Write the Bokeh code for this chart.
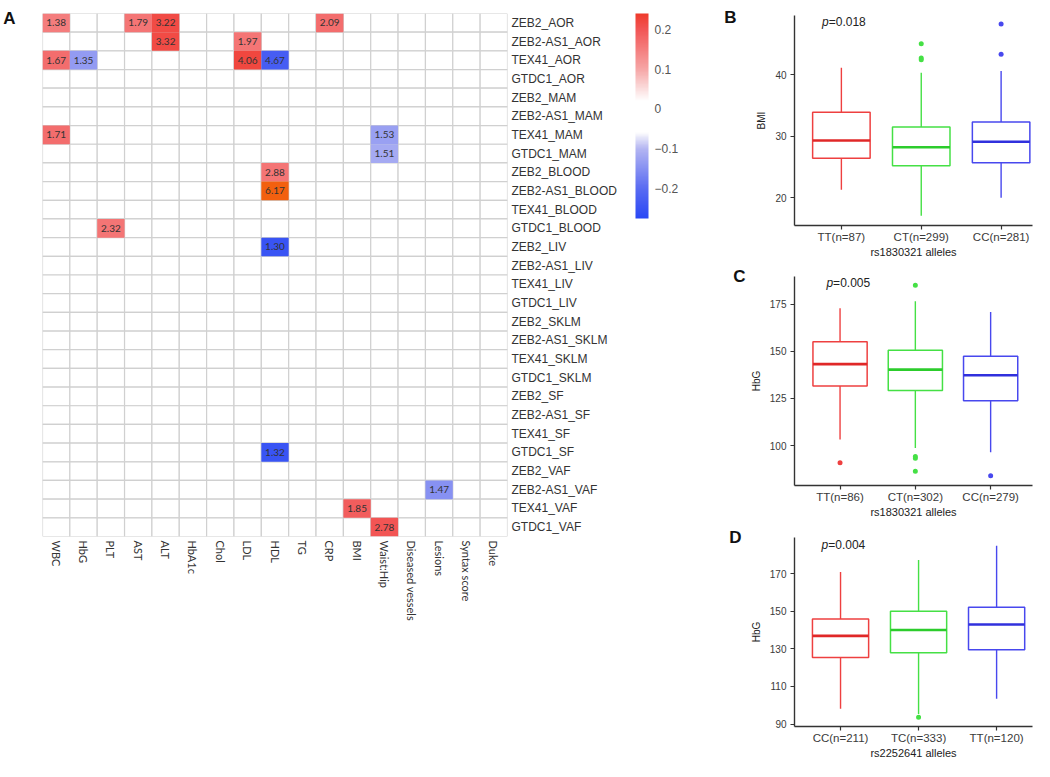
import numpy as np
from bokeh.plotting import figure
from bokeh.models import (LinearColorMapper, ColorBar, FixedTicker, Range1d,
                          ColumnDataSource, LinearAxis, Label)
from bokeh.layouts import row, column
from bokeh.embed import file_html
from bokeh.resources import INLINE
from bokeh.core.properties import value

# ---------------- Heatmap data ----------------
traits = ["WBC", "HbG", "PLT", "AST", "ALT", "HbA1c", "Chol", "LDL", "HDL", "TG", "CRP",
          "BMI", "Waist:Hip", "Diseased vessels", "Lesions", "Syntax score", "Duke"]
gene_tissue = ["ZEB2_AOR", "ZEB2-AS1_AOR", "TEX41_AOR", "GTDC1_AOR",
               "ZEB2_MAM", "ZEB2-AS1_MAM", "TEX41_MAM", "GTDC1_MAM",
               "ZEB2_BLOOD", "ZEB2-AS1_BLOOD", "TEX41_BLOOD", "GTDC1_BLOOD",
               "ZEB2_LIV", "ZEB2-AS1_LIV", "TEX41_LIV", "GTDC1_LIV",
               "ZEB2_SKLM", "ZEB2-AS1_SKLM", "TEX41_SKLM", "GTDC1_SKLM",
               "ZEB2_SF", "ZEB2-AS1_SF", "TEX41_SF", "GTDC1_SF",
               "ZEB2_VAF", "ZEB2-AS1_VAF", "TEX41_VAF", "GTDC1_VAF"]

sig_row = ["ZEB2_AOR", "ZEB2_AOR", "ZEB2_AOR", "ZEB2_AOR",
           "ZEB2-AS1_AOR", "ZEB2-AS1_AOR",
           "TEX41_AOR", "TEX41_AOR", "TEX41_AOR", "TEX41_AOR",
           "TEX41_MAM", "TEX41_MAM", "GTDC1_MAM",
           "ZEB2_BLOOD", "ZEB2-AS1_BLOOD", "GTDC1_BLOOD",
           "ZEB2_LIV", "GTDC1_SF", "ZEB2-AS1_VAF", "TEX41_VAF", "GTDC1_VAF"]
sig_col = ["WBC", "AST", "ALT", "CRP",
           "ALT", "LDL",
           "WBC", "HbG", "LDL", "HDL",
           "WBC", "Waist:Hip", "Waist:Hip",
           "HDL", "HDL", "PLT",
           "HDL", "HDL", "Lesions", "BMI", "Waist:Hip"]
sig_r = [0.15, 0.16, 0.215, 0.17,
         0.215, 0.16,
         0.17, -0.135, 0.22, -0.23,
         0.17, -0.13, -0.115,
         0.16, 0.26, 0.16,
         -0.25, -0.25, -0.15, 0.19, 0.2]
sig_label = ["1.38", "1.79", "3.22", "2.09",
             "3.32", "1.97",
             "1.67", "1.35", "4.06", "4.67",
             "1.71", "1.53", "1.51",
             "2.88", "6.17", "2.32",
             "1.30", "1.32", "1.47", "1.85", "2.78"]
cbar_ticks = [-0.2, -0.1, 0.0, 0.1, 0.2]

# ---------------- Box plot data ----------------
b_labels = ["TT(n=87)", "CT(n=299)", "CC(n=281)"]
b_lo = [21.3, 17.1, 20.0]
b_q1 = [26.4, 25.2, 25.7]
b_med = [29.3, 28.2, 29.1]
b_q3 = [33.9, 31.5, 32.3]
b_hi = [41.1, 40.3, 40.6]
b_out_g = [2, 2, 2, 3, 3]
b_out_v = [45.0, 42.7, 42.4, 48.2, 43.3]

c_labels = ["TT(n=86)", "CT(n=302)", "CC(n=279)"]
c_lo = [103.3, 98.8, 96.5]
c_q1 = [131.6, 129.2, 123.8]
c_med = [143.2, 140.3, 137.3]
c_q3 = [155.0, 150.5, 147.3]
c_hi = [172.8, 176.5, 170.8]
c_out_g = [1, 2, 2, 2, 2, 3]
c_out_v = [91.0, 185.0, 94.2, 93.3, 86.4, 84.1]

d_labels = ["CC(n=211)", "TC(n=333)", "TT(n=120)"]
d_lo = [98.2, 95.3, 103.4]
d_q1 = [125.4, 127.9, 129.5]
d_med = [136.9, 140.0, 142.9]
d_q3 = [145.9, 150.0, 152.1]
d_hi = [170.8, 177.2, 184.8]
d_out_g = [2]
d_out_v = [93.6]

group_colors = ["#ee4040", "#45e045", "#4848ee"]
median_colors = ["#e02828", "#2ccc2c", "#3030dd"]

# ---------------- palette ----------------
stops = [(-0.276, "#2a48f5"), (-0.2, "#5a6cf2"), (-0.1, "#b4b6f2"), (-0.068, "#eeeefb"),
         (-0.06, "#ffffff"), (0.02, "#ffffff"), (0.05, "#fbdede"), (0.1, "#f6a6a6"),
         (0.2, "#f25656"), (0.24, "#ef3b2c")]


def hex2rgb(h):
    return [int(h[i:i + 2], 16) for i in (1, 3, 5)]


def build_palette(n=256):
    vs = [s[0] for s in stops]
    cs = np.array([hex2rgb(s[1]) for s in stops], dtype=float)
    out = []
    for t in np.linspace(vs[0], vs[-1], n):
        rgb = [np.interp(t, vs, cs[:, k]) for k in range(3)]
        out.append("#%02x%02x%02x" % tuple(int(round(c)) for c in rgb))
    return out


palette = build_palette()
mapper = LinearColorMapper(palette=palette, low=stops[0][0], high=stops[-1][0],
                           high_color="#f2600f")

FONT = "Liberation Sans"


def letter_axis(fig, letter, ypos, standoff):
    """Panel letter drawn as the single tick label of an extra, invisible left axis."""
    fig.extra_y_ranges = {"lab": Range1d(0, 1)}
    ax = LinearAxis(y_range_name="lab", ticker=FixedTicker(ticks=[ypos]),
                    major_label_overrides={ypos: letter})
    ax.axis_line_color = None
    ax.major_tick_line_color = None
    ax.minor_tick_line_color = None
    ax.major_tick_out = 0
    ax.major_tick_in = 0
    ax.major_label_standoff = standoff
    ax.major_label_text_font = FONT
    ax.major_label_text_font_size = "17px"
    ax.major_label_text_font_style = "bold"
    ax.major_label_text_color = "#111111"
    fig.add_layout(ax, "left")


# ---------------- Heatmap ----------------
ncol, nrow = len(traits), len(gene_tissue)
col_pos = {t: i + 0.5 for i, t in enumerate(traits)}
row_pos = {g: nrow - i - 0.5 for i, g in enumerate(gene_tissue)}

hm = figure(width=690, height=761,
            x_range=Range1d(0, ncol), y_range=Range1d(0, nrow),
            y_axis_location="right", x_axis_location="below",
            output_backend="svg", toolbar_location=None,
            min_border_left=42, min_border_right=183,
            min_border_top=13, min_border_bottom=225)
hm.outline_line_color = None
hm.xgrid.visible = False
hm.ygrid.visible = False

all_x = [col_pos[t] for g in gene_tissue for t in traits]
all_y = [row_pos[g] for g in gene_tissue for t in traits]
hm.rect(x=all_x, y=all_y, width=1, height=1, fill_color="white",
        line_color="#d0d0d0", line_width=1.2)
sig_src = ColumnDataSource(data=dict(x=[col_pos[c] for c in sig_col],
                                     y=[row_pos[r] for r in sig_row],
                                     r=sig_r, t=sig_label))
hm.rect(x="x", y="y", width=1, height=1,
        fill_color={"field": "r", "transform": mapper}, line_color=None, source=sig_src)
hm.text(x="x", y="y", text="t", text_align="center", source=sig_src,
        text_baseline="middle", text_font=value("Lato"),
        text_font_size="10px", text_color="#333333")

hm.xaxis.ticker = FixedTicker(ticks=list(col_pos.values()))
hm.xaxis.major_label_overrides = {v: k for k, v in col_pos.items()}
hm.yaxis.ticker = FixedTicker(ticks=list(row_pos.values()))
hm.yaxis.major_label_overrides = {v: k for k, v in row_pos.items()}
for ax in (hm.xaxis[0], hm.yaxis[0]):
    ax.axis_line_color = None
    ax.major_tick_line_color = None
    ax.minor_tick_line_color = None
    ax.major_tick_out = 0
    ax.major_tick_in = 0
    ax.major_label_text_color = "#333333"
    ax.major_label_standoff = 4
hm.xaxis.major_label_orientation = -np.pi / 2
hm.xaxis.major_label_text_font = "Lato"
hm.xaxis.major_label_text_font_size = "11px"
hm.yaxis.major_label_text_font = FONT
hm.yaxis.major_label_text_font_size = "12px"
# blank axis title only to leave the gap between row names and colour bar
hm.yaxis.axis_label = " "
hm.yaxis.axis_label_text_font_size = "10px"
hm.yaxis.axis_label_standoff = 2

cb = ColorBar(color_mapper=mapper, width=13, height=205, location="top_left",
              margin=0, padding=0, ticker=FixedTicker(ticks=cbar_ticks),
              major_label_overrides={0: "0"},
              major_tick_line_color=None, minor_tick_line_color=None,
              label_standoff=6, major_label_text_font=FONT,
              major_label_text_font_size="12px", major_label_text_color="#555555",
              bar_line_color=None, border_line_color=None, background_fill_color=None)
hm.add_layout(cb, "right")
letter_axis(hm, "A", 0.99, 27)


# ---------------- Box plots ----------------
def boxplot(labels, lo, q1, med, q3, hi, out_g, out_v, xr, yr, yticks, ylab, xlab,
            ptext, pxy, letter, lpos, lstand, width, height, borders):
    f = figure(width=width, height=height, x_range=Range1d(*xr), y_range=Range1d(*yr),
               output_backend="svg", toolbar_location=None,
               min_border_left=borders[0], min_border_right=borders[1],
               min_border_top=borders[2], min_border_bottom=borders[3])
    f.outline_line_color = None
    f.xgrid.visible = False
    f.ygrid.visible = False
    xs = [1, 2, 3]
    bw = 0.72
    f.segment(x0=xs, y0=q3, x1=xs, y1=hi, line_color=group_colors, line_width=1.4)
    f.segment(x0=xs, y0=lo, x1=xs, y1=q1, line_color=group_colors, line_width=1.4)
    f.vbar(x=xs, bottom=q1, top=q3, width=bw, fill_color="white",
           line_color=group_colors, line_width=1.5)
    f.segment(x0=[x - bw / 2 for x in xs], y0=med, x1=[x + bw / 2 for x in xs], y1=med,
              line_color=median_colors, line_width=2.6)
    f.scatter(x=out_g, y=out_v, size=5, color=[group_colors[g - 1] for g in out_g],
              line_color=None)

    f.xaxis.ticker = FixedTicker(ticks=xs)
    f.xaxis.major_label_overrides = {x: l for x, l in zip(xs, labels)}
    f.yaxis.ticker = FixedTicker(ticks=yticks)
    for ax in (f.xaxis[0], f.yaxis[0]):
        ax.axis_line_color = "#333333"
        ax.axis_line_width = 1.4
        ax.major_tick_line_color = "#333333"
        ax.major_tick_line_width = 1.2
        ax.major_tick_out = 4
        ax.major_tick_in = 0
        ax.minor_tick_line_color = None
        ax.major_label_text_font = FONT
        ax.major_label_text_color = "#3a3a3a"
        ax.axis_label_text_font = FONT
        ax.axis_label_text_font_style = "normal"
        ax.axis_label_text_color = "#222222"
    f.xaxis.major_label_text_font_size = "11.5px"
    f.xaxis.major_label_standoff = 1
    f.xaxis.axis_label = xlab
    f.xaxis.axis_label_text_font_size = "11px"
    f.xaxis.axis_label_standoff = 0
    f.yaxis.major_label_text_font_size = "10px"
    f.yaxis.major_label_standoff = 4
    f.yaxis.axis_label = ylab
    f.yaxis.axis_label_text_font_size = "10px"
    f.yaxis.axis_label_standoff = 5

    f.add_layout(Label(x=pxy[0], y=pxy[1], text="p", text_font=FONT, text_font_size="12px",
                       text_font_style="italic", text_baseline="middle", text_color="#222222"))
    f.add_layout(Label(x=pxy[0], y=pxy[1], x_offset=6.7, text=ptext, text_font=FONT,
                       text_font_size="12px", text_baseline="middle", text_color="#222222"))
    letter_axis(f, letter, lpos, lstand)
    return f


pb = boxplot(b_labels, b_lo, b_q1, b_med, b_q3, b_hi, b_out_g, b_out_v,
             (0.413, 3.393), (15.5, 49.6), [20, 30, 40], "BMI", "rs1830321 alleles",
             "=0.018", (0.758, 48.48), "B", 0.99, 17, 344, 260, (100, 2, 15, 32))
pc = boxplot(c_labels, c_lo, c_q1, c_med, c_q3, c_hi, c_out_g, c_out_v,
             (0.395, 3.556), (78.9, 189.6), [100, 125, 150, 175], "HbG", "rs1830321 alleles",
             "=0.005", (0.819, 186.1), "C", 0.999, 2, 344, 260, (100, 0, 16, 32))
pd_ = boxplot(d_labels, d_lo, d_q1, d_med, d_q3, d_hi, d_out_g, d_out_v,
              (0.41, 3.46), (88.7, 189.2), [90, 110, 130, 150, 170], "HbG", "rs2252641 alleles",
              "=0.004", (0.756, 185.1), "D", 0.999, 6, 344, 241, (104, 2, 17, 28))

layout = row(hm, column(pb, pc, pd_))
open("out.html", "w").write(file_html(layout, INLINE))
